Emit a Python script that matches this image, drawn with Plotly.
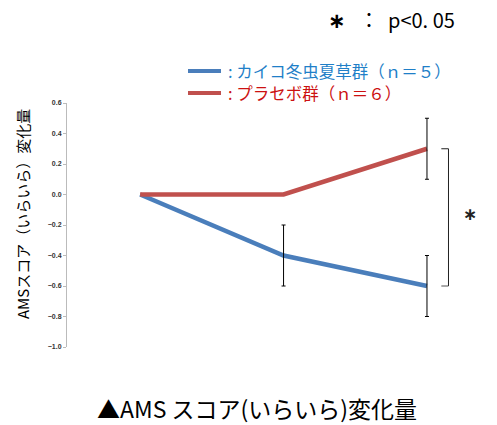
import plotly.graph_objects as go

categories = [0, 1, 2]
kaiko_values = [0.0, -0.4, -0.6]
placebo_values = [0.0, 0.0, 0.3]
kaiko_err_idx = [1, 2]
kaiko_err = [0.2, 0.2]
placebo_err_idx = [2]
placebo_err = [0.2]
y_ticks = [0.6, 0.4, 0.2, 0.0, -0.2, -0.4, -0.6, -0.8, -1.0]

W, H = 497, 425
L, T = 67, 103
R = W - 470
B = H - 347
pw, ph = W - L - R, H - T - B

def px(x):
    return (x - L) / pw

def py(y):
    return 1 - (y - T) / ph

BLUE = "#4a7ebb"
RED = "#c0504d"
JP = "Noto Sans CJK JP"

def star(size):
    return "<span style='font-family:DejaVu Sans;font-size:%dpx'><b>∗</b></span>" % size

fig = go.Figure()
fig.add_trace(go.Scatter(x=categories, y=kaiko_values, mode="lines",
                         line=dict(color=BLUE, width=4.5), showlegend=False, hoverinfo="skip"))
fig.add_trace(go.Scatter(x=categories, y=placebo_values, mode="lines",
                         line=dict(color=RED, width=4.5), showlegend=False, hoverinfo="skip"))
fig.add_trace(go.Scatter(x=[categories[i] for i in kaiko_err_idx],
                         y=[kaiko_values[i] for i in kaiko_err_idx], mode="markers",
                         marker=dict(opacity=0, size=1),
                         error_y=dict(type="data", array=kaiko_err, color="black", thickness=1, width=2),
                         showlegend=False, hoverinfo="skip"))
fig.add_trace(go.Scatter(x=[categories[i] for i in placebo_err_idx],
                         y=[placebo_values[i] for i in placebo_err_idx], mode="markers",
                         marker=dict(opacity=0, size=1),
                         error_y=dict(type="data", array=placebo_err, color="black", thickness=1, width=2),
                         showlegend=False, hoverinfo="skip"))

# significance bracket
bx0, bx1 = 2.1, 2.15
fig.add_shape(type="line", x0=bx0, x1=bx1, y0=placebo_values[2], y1=placebo_values[2],
              line=dict(color="#222", width=1))
fig.add_shape(type="line", x0=bx1, x1=bx1, y0=placebo_values[2], y1=kaiko_values[2],
              line=dict(color="#222", width=1))
fig.add_shape(type="line", x0=bx0, x1=bx1, y0=kaiko_values[2], y1=kaiko_values[2],
              line=dict(color="#555", width=1))
fig.add_annotation(xref="paper", yref="paper", x=px(470), y=py(214), text=star(17),
                   xanchor="center", yanchor="middle",
                   showarrow=False, font=dict(size=17, color="#222"))

# legend
fig.add_shape(type="line", xref="paper", yref="paper", x0=px(188), x1=px(221), y0=py(71), y1=py(71),
              line=dict(color=BLUE, width=4))
fig.add_shape(type="line", xref="paper", yref="paper", x0=px(188), x1=px(221), y0=py(93), y1=py(93),
              line=dict(color=RED, width=4))
fig.add_annotation(xref="paper", yref="paper", x=px(226), y=py(71), xanchor="left", yanchor="middle",
                   text=": カイコ冬虫夏草群（ｎ＝５）", showarrow=False,
                   font=dict(family=JP, size=16.5, color="#1f7fc8"))
fig.add_annotation(xref="paper", yref="paper", x=px(226), y=py(93), xanchor="left", yanchor="middle",
                   text=": プラセボ群（ｎ＝６）", showarrow=False,
                   font=dict(family=JP, size=16.5, color="#cc1111"))

# p-value note
fig.add_annotation(xref="paper", yref="paper", x=px(457), y=py(19), xanchor="right", yanchor="middle",
                   text=star(21) + "   ：  p&lt;0. 05", showarrow=False,
                   font=dict(family=JP, size=20, color="black"))

# bottom title
fig.add_annotation(xref="paper", yref="paper", x=px(257), y=py(408), xanchor="center", yanchor="middle",
                   text="▲AMS スコア(いらいら)変化量", showarrow=False,
                   font=dict(family=JP, size=23, color="black"))

# y-axis title
fig.add_annotation(xref="paper", yref="paper", x=px(22), y=py(214), xanchor="center", yanchor="middle",
                   text="AMSスコア（いらいら）変化量", textangle=-90, showarrow=False,
                   font=dict(family=JP, size=15, color="black"))

fig.update_xaxes(range=[-0.51, 2.3], showgrid=False, zeroline=False, showline=False,
                 showticklabels=False, ticks="")
fig.update_yaxes(range=[-1.0, 0.6], tickvals=y_ticks, tickformat=".1f", showgrid=False,
                 zeroline=False, showline=True, linecolor="#bbb", linewidth=1,
                 ticks="outside", ticklen=3, tickcolor="#bbb",
                 tickfont=dict(family="Liberation Sans", size=7, color="#333", weight="bold"))
fig.update_layout(width=W, height=H, margin=dict(l=L, r=R, t=T, b=B),
                  plot_bgcolor="white", paper_bgcolor="white", showlegend=False)
fig.write_html("out.html", config={"displayModeBar": False},
               post_script="document.body.style.margin='0px';")
